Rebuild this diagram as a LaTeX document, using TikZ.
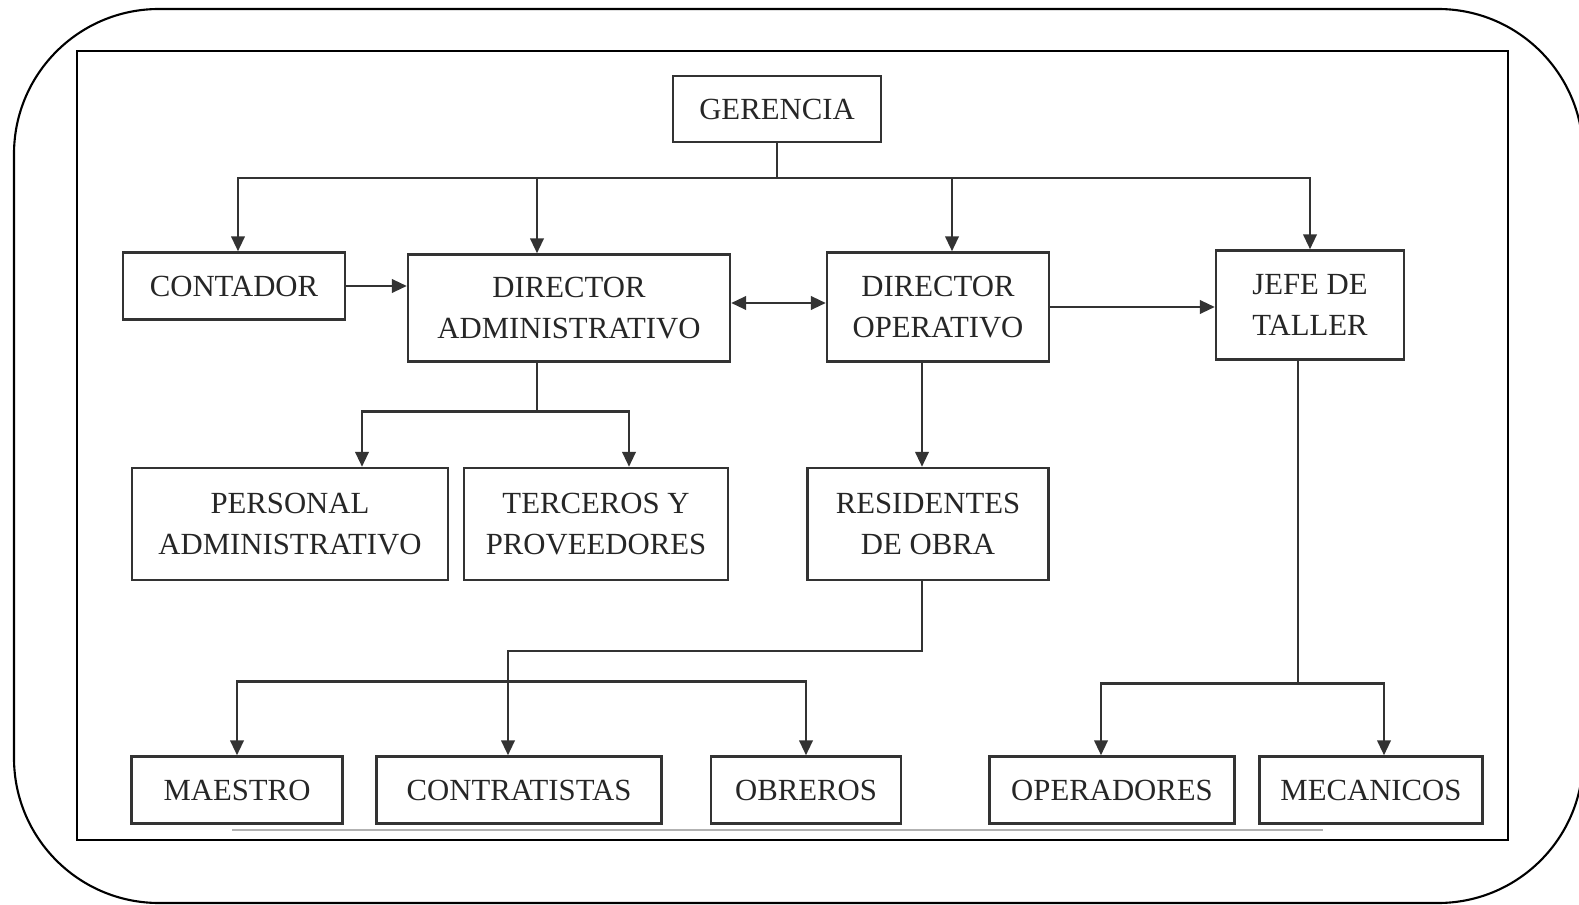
\documentclass[tikz,border=0pt]{standalone}
\usepackage{fontspec}
\setmainfont{Liberation Serif}
\usetikzlibrary{calc, positioning, arrows.meta}

\begin{document}
\begin{tikzpicture}[x=0.02cm, y=-0.02cm,
  caja/.style={draw=black!80, line width=1.4pt, inner sep=0pt, align=center,
    font=\fontsize{17.5}{23}\selectfont, text=black!85},
  linea/.style={draw=black!80, line width=1.4pt},
  flecha/.style={linea, -{Triangle[length=0.3cm,width=0.27cm]}},
  dflecha/.style={linea, {Triangle[length=0.3cm,width=0.27cm]}-{Triangle[length=0.3cm,width=0.27cm]}}]
\useasboundingbox (0,0) rectangle (1579,905);
% marcos
\draw[line width=1.2pt, rounded corners=2.9cm] (14,9) rectangle (1583,903);
\draw[line width=1.5pt] (77,51) rectangle (1508,840);
\draw[black!30, line width=1.2pt] (232,830) -- (1323,830);
% cajas
\node[caja, minimum width=4.16cm, minimum height=1.32cm] (ger) at (777,109) {GERENCIA};
\node[caja, minimum width=4.44cm, minimum height=1.34cm] (cont) at (234,286) {CONTADOR};
\node[caja, minimum width=6.44cm, minimum height=2.14cm] (dadm) at (569,308) {DIRECTOR\\ADMINISTRATIVO};
\node[caja, minimum width=4.44cm, minimum height=2.18cm] (dop) at (938,307) {DIRECTOR\\OPERATIVO};
\node[caja, minimum width=3.76cm, minimum height=2.18cm] (jefe) at (1310,305) {JEFE DE\\TALLER};
\node[caja, minimum width=6.32cm, minimum height=2.24cm] (pers) at (290,524) {PERSONAL\\ADMINISTRATIVO};
\node[caja, minimum width=5.28cm, minimum height=2.24cm] (terc) at (596,524) {TERCEROS Y\\PROVEEDORES};
\node[caja, minimum width=4.82cm, minimum height=2.24cm] (resi) at (928,524) {RESIDENTES\\DE OBRA};
\node[caja, minimum width=4.22cm, minimum height=1.34cm] (maes) at (237,790) {MAESTRO};
\node[caja, minimum width=5.70cm, minimum height=1.34cm] (contr) at (519,790) {CONTRATISTAS};
\node[caja, minimum width=3.80cm, minimum height=1.34cm] (obr) at (806,790) {OBREROS};
\node[caja, minimum width=4.90cm, minimum height=1.34cm] (oper) at (1112,790) {OPERADORES};
\node[caja, minimum width=4.46cm, minimum height=1.34cm] (meca) at (1371,790) {MECANICOS};
% gerencia
\coordinate (bus) at (0,178);
\coordinate (da) at ($(dadm.north)+(-32,0)$);
\coordinate (do) at ($(dop.north)+(14,0)$);
\draw[linea] (ger.south) -- (ger.south |- bus);
\draw[flecha] (ger.south |- bus) -| ($(cont.north)+(4,0)$);
\draw[flecha] (ger.south |- bus) -| (jefe.north);
\draw[flecha] (da |- bus) -- (da);
\draw[flecha] (do |- bus) -- (do);
% entre directores
\draw[flecha] (cont.east) -- (cont.east -| dadm.west);
\draw[dflecha] ($(dadm.east)+(0,-5)$) coordinate (x1) -- (x1 -| dop.west);
\draw[flecha] (dop.east) -- (dop.east -| jefe.west);
% administrativo
\coordinate (dab) at ($(dadm.south)+(-32,0)$);
\draw[linea] (dab) -- ++(0,49) coordinate (r2);
\draw[flecha] (r2) -| ($(pers.north)+(72,0)$);
\draw[flecha] (r2) -| ($(terc.north)+(33,0)$);
% operativo
\coordinate (ds) at ($(dop.south)+(-16,0)$);
\draw[flecha] (ds) -- (ds |- resi.north);
\draw[flecha] (ds |- resi.south) -- ++(0,70) -| ($(contr.north)+(-11,0)$);
\draw[dflecha] (maes.north) -- ++(0,-74) -| (obr.north);
% taller
\coordinate (js) at ($(jefe.south)+(-12,0)$);
\draw[linea] (js) -- ++(0,323) coordinate (jb);
\draw[flecha] (jb) -| ($(oper.north)+(-11,0)$);
\draw[flecha] (jb) -| ($(meca.north)+(13,0)$);
\end{tikzpicture}
\end{document}
